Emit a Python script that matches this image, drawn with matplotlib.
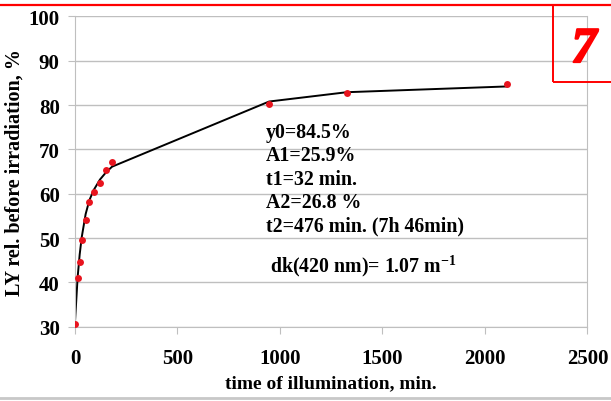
import matplotlib
matplotlib.use('Agg')
import matplotlib.pyplot as plt
import matplotlib.patheffects as pe
from matplotlib.lines import Line2D
from matplotlib.patches import Rectangle

plt.rcParams['font.family'] = ['Liberation Serif', 'DejaVu Serif']
plt.rcParams['font.weight'] = 'bold'
plt.rcParams['mathtext.fontset'] = 'custom'
plt.rcParams['mathtext.rm'] = 'Liberation Serif:bold'
plt.rcParams['mathtext.bf'] = 'Liberation Serif:bold'
plt.rcParams['mathtext.default'] = 'bf'

# measured points (time in min, LY in %)
time_min = [0, 13, 23, 33, 52, 70, 91, 122, 151, 181, 947, 1326, 2107]
ly_pct = [30.7, 40.9, 44.7, 49.6, 54.1, 58.1, 60.3, 62.5, 65.3, 67.1, 80.3, 82.7, 84.8]

# fitted curve as drawn (values at the same times)
fit_pct = [31.0, 41.2, 46.3, 50.2, 55.4, 58.5, 60.8, 63.2, 64.8, 66.1, 80.8, 82.9, 84.2]

fit_text = ['y0=84.5%', 'A1=25.9%', 't1=32 min.', 'A2=26.8 %', 't2=476 min. (7h 46min)']

grid_c = '#bfbfbf'

fig = plt.figure(figsize=(6.11, 4.02), dpi=100)
ax = fig.add_axes([0.1227, 0.1848, 0.8388, 0.7719])

ax.plot(time_min, fit_pct, color='black', lw=1.4, zorder=2)
ax.plot(time_min, ly_pct, 'o', color='#e8141e', ms=5, mec='none', zorder=3)

ax.set_xlim(0, 2500)
ax.set_ylim(30, 100)
ax.set_xticks(range(0, 2501, 500))
ax.set_yticks(range(30, 101, 10))
ax.grid(axis='y', color=grid_c, lw=1)
ax.set_axisbelow(True)
for s in ['left', 'right', 'bottom']:
    ax.spines[s].set_color(grid_c)
ax.spines['top'].set_visible(False)
ax.tick_params(axis='both', colors=grid_c, labelcolor='black', labelsize=15, length=5)
ax.tick_params(axis='x', pad=10)
ax.tick_params(axis='y', pad=6)
for lab in ax.get_xticklabels() + ax.get_yticklabels():
    lab.set_fontweight('bold')

ax.set_xlabel('time of illumination, min.', fontsize=14, fontweight='bold', labelpad=5)
ax.set_ylabel('LY rel. before irradiation, %', fontsize=14.5, fontweight='bold', labelpad=3)

for i, t in enumerate(fit_text):
    fig.text(266 / 611, 1 - (133 + i * 23.4) / 402, t, fontsize=14.3, fontweight='bold',
             va='center', ha='left')
fig.text(270 / 611, 1 - 266 / 402, 'dk(420 nm)= 1.07 m$^{-1}$', fontsize=14.3,
         fontweight='bold', va='center', ha='left')

# slide decorations
fig.add_artist(Line2D([0, 1], [1 - 5.5 / 402, 1 - 5.5 / 402], color='#ff0000', lw=1.6))
fig.add_artist(Line2D([0, 1], [1 - 399 / 402, 1 - 399 / 402], color='#c8c8c8', lw=2))
fig.add_artist(Rectangle((552.5 / 611, 1 - 83 / 402), 0.2, (83 - 5.5) / 402,
                         transform=fig.transFigure, fill=False, ec='#ff0000', lw=1.4))
fig.text(584 / 611, 1 - 51 / 402, '7', fontsize=36, fontweight='bold', fontstyle='italic',
         color='#ff0000', ha='center', va='center',
         path_effects=[pe.withStroke(linewidth=1.6, foreground='#ff0000')])

fig.savefig('out.png', dpi=100)
